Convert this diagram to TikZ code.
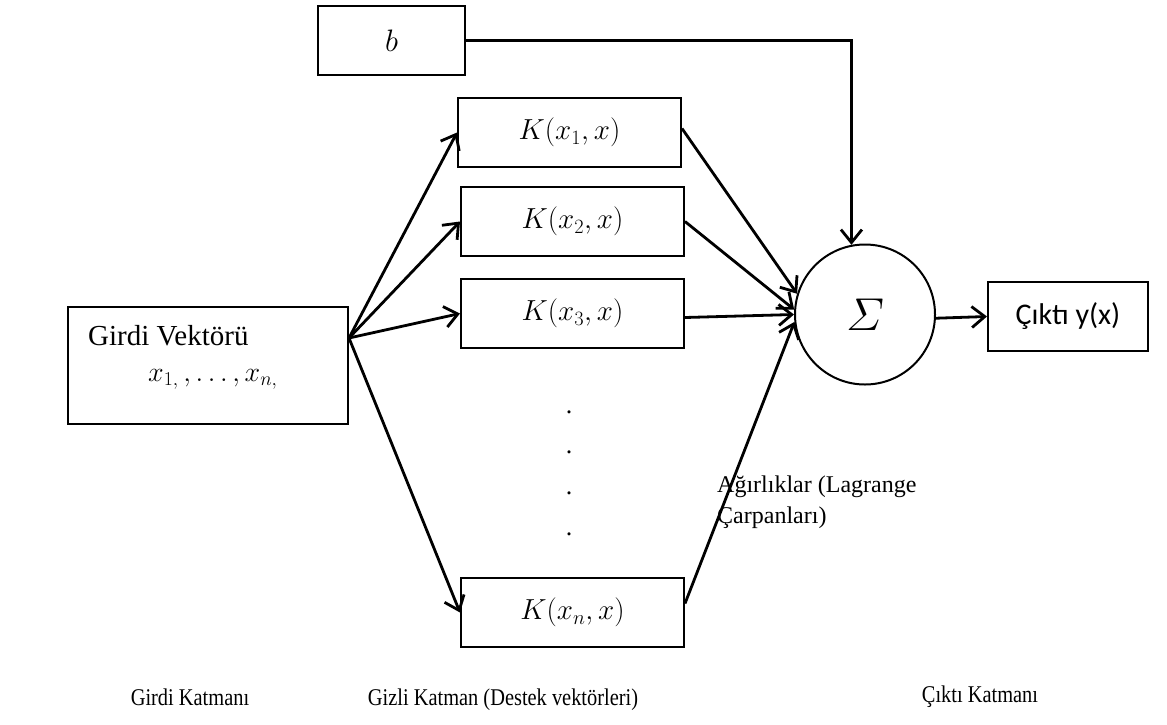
\RequirePackage{fix-cm}
\documentclass[tikz,border=0pt]{standalone}
\usepackage{amsmath}
\usepackage{fontspec}
\setmainfont{Liberation Serif}
\newfontfamily\calibri{Carlito}
\usetikzlibrary{arrows.meta,calc}
\begin{document}
\begin{tikzpicture}[x=1pt,y=-1pt,
  box/.style={draw,line width=2pt,inner sep=0pt,minimum width=223pt,minimum height=69pt},
  kfont/.style={font=\fontsize{29}{32}\selectfont},
  arr/.style={line width=2.8pt,-{Straight Barb[length=13pt,width=21pt]}},
  lbl/.style={font=\fontsize{24}{28}\selectfont,inner sep=0pt},
  dotnode/.style={font=\fontsize{26}{26}\selectfont,inner sep=0pt}
]
\useasboundingbox (0,0) rectangle (1167,724);
% bias
\node[box,minimum width=147pt,font=\fontsize{31}{34}\selectfont] (b) at (391.5,40.5) {$b$};
% kernel boxes
\node[box,kfont] (k1) at (569.5,132.5) {$K(x_1,x)$};
\node[box,kfont] (k2) at (572.5,221.5) {$K(x_2,x)$};
\node[box,kfont] (k3) at (572.5,313.5) {$K(x_3,x)$};
\node[box,kfont] (kn) at (572.5,612.5) {$K(x_n,x)$};
% dots
\node[dotnode] (d1) at (569,412) {.};
\node[dotnode] (d2) at (569,452) {.};
\node[dotnode] (d3) at (569,493) {.};
\node[dotnode] (d4) at (569,534) {.};
% input box
\node[draw,line width=2pt,minimum width=280pt,minimum height=117pt,inner sep=0pt] (girdi) at (208,365.5) {};
\node[anchor=base west,inner sep=0pt,font=\fontsize{29}{32}\selectfont] (gv) at (88,345) {Girdi Vektörü};
\node[anchor=base west,inner sep=0pt,font=\fontsize{28}{32}\selectfont] (gx) at (148,381) {$x_{1,}\,,\ldots,x_{n,}$};
% sum
\node[draw,circle,line width=2pt,minimum size=140pt,inner sep=0pt,font=\fontsize{46}{50}\selectfont] (sigma) at (865,314.5) {$\varSigma$};
% output
\node[draw,line width=2pt,minimum width=160pt,minimum height=69pt,inner sep=0pt,font=\calibri\fontsize{30}{34}\selectfont] (out) at (1068,316.5) {Çıktı y(x)};
% weights label
\node[anchor=base west,align=left,inner sep=0pt,font=\fontsize{24}{31}\selectfont] (w) at (717,523) {Ağırlıklar (Lagrange\\Çarpanları)};
% layer labels
\node[lbl] (l1) at (190,697) {\scalebox{0.85}[1]{Girdi Katmanı}};
\node[lbl] (l2) at (503,700) {\scalebox{0.85}[1]{Gizli Katman (Destek vektörleri)}};
\node[lbl] (l3) at (980,697) {\scalebox{0.85}[1]{Çıktı Katmanı}};
% connectors
\coordinate (fan) at ($(girdi.north east)+(0,32)$);
\draw[arr] (fan) -- (k1.west);
\draw[arr] (fan) -- (k2.west);
\draw[arr] (fan) -- (k3.west);
\draw[arr] (fan) -- (kn.west);
\draw[arr] ($(k1.east)+(0,-4)$) -- (sigma.163);
\draw[arr] (k2.east) -- (sigma.176);
\draw[arr] ($(k3.east)+(0,4)$) -- (sigma.180);
\draw[arr] ($(kn.east)+(0,-9)$) -- (sigma.186);
\draw[arr] (b.east) -| (sigma.101.5);
\draw[arr] (sigma.-3) -- (out.west);
\end{tikzpicture}
\end{document}
